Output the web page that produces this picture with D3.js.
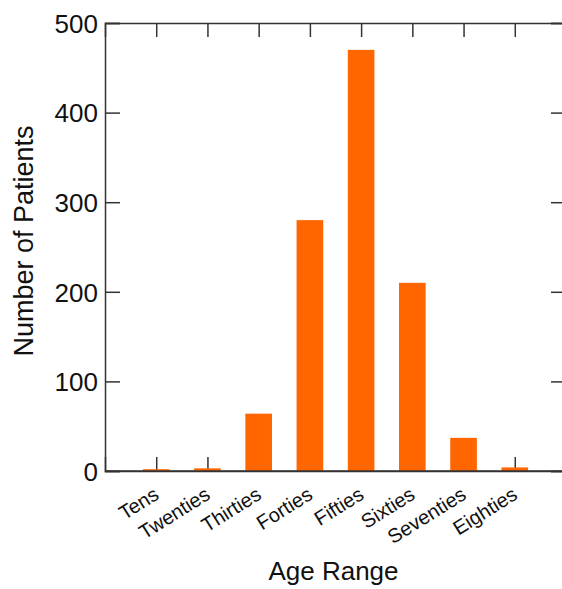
<!DOCTYPE html>
<html>
<head>
<meta charset="utf-8">
<script src="https://cdn.jsdelivr.net/npm/d3@7"></script>
<style>
  body { margin: 0; background: #fff; }
  svg text { font-family: "Liberation Sans", Arial, sans-serif; fill: #111; }
</style>
</head>
<body>
<div id="chart"></div>
<script>
// data
const categories = ["Tens", "Twenties", "Thirties", "Forties", "Fifties", "Sixties", "Seventies", "Eighties"];
const patients = [2, 3, 64, 280, 470, 210, 37, 4];
const yTicks = [0, 100, 200, 300, 400, 500];

const W = 562, H = 589;
// plot frame (right edge sits just outside the window like the original)
const frame = { left: 105, right: 566, top: 23, bottom: 471 };

const svg = d3.select("#chart").append("svg")
  .attr("width", W).attr("height", H);

// categories sit at 1..8, frame spans 0..9
const x = d3.scaleLinear().domain([0, categories.length + 1]).range([frame.left, frame.right]);
const y = d3.scaleLinear().domain([0, 500]).range([frame.bottom, frame.top]);
const step = x(1) - x(0);
const barW = step * 0.52;
const catPos = categories.map((c, i) => i + 1);

const axisColor = "#333";

//===================== AXES (ticks pointing inward) =====================
const left = svg.append("g").attr("transform", `translate(${frame.left},0)`)
  .call(d3.axisLeft(y).tickValues(yTicks).tickSize(-15).tickPadding(7));
left.selectAll("text").style("font-size", "26px").attr("dy", "0.36em");

svg.append("g").attr("transform", `translate(${frame.right},0)`)
  .call(d3.axisRight(y).tickValues(yTicks).tickSize(-15).tickFormat(""));

svg.append("g").attr("transform", `translate(0,${frame.top})`)
  .call(d3.axisTop(x).tickValues(catPos).tickSize(-14).tickFormat(""));

svg.append("g").attr("transform", `translate(0,${frame.bottom})`)
  .call(d3.axisBottom(x).tickValues(catPos).tickSize(-14).tickFormat(""));

svg.selectAll(".domain").attr("stroke", axisColor).attr("stroke-width", 1.5);
svg.selectAll(".tick line").attr("stroke", axisColor).attr("stroke-width", 1.5);

//===================== BARS =====================
svg.append("g").selectAll("rect")
  .data(patients)
  .join("rect")
  .attr("x", (d, i) => x(i + 1) - barW / 2)
  .attr("width", barW)
  .attr("y", d => y(d))
  .attr("height", d => y(0) - y(d))
  .attr("fill", "#ff6600");

// redraw bottom spine above the bars
svg.append("line")
  .attr("x1", frame.left).attr("x2", frame.right)
  .attr("y1", frame.bottom).attr("y2", frame.bottom)
  .attr("stroke", axisColor).attr("stroke-width", 1.5);

//===================== CATEGORY LABELS (rotated) =====================
svg.append("g").selectAll("text")
  .data(categories)
  .join("text")
  .attr("transform", (d, i) => `translate(${x(i + 1) + 4},${frame.bottom + 27}) rotate(-32)`)
  .attr("text-anchor", "end")
  .style("font-size", "20px")
  .text(d => d);

//===================== AXIS TITLES =====================
svg.append("text")
  .attr("x", (frame.left + frame.right) / 2 - 2)
  .attr("y", 580)
  .attr("text-anchor", "middle")
  .style("font-size", "26px")
  .text("Age Range");

svg.append("text")
  .attr("transform", `translate(33,241) rotate(-90)`)
  .attr("text-anchor", "middle")
  .style("font-size", "27px")
  .text("Number of Patients");
</script>
</body>
</html>
